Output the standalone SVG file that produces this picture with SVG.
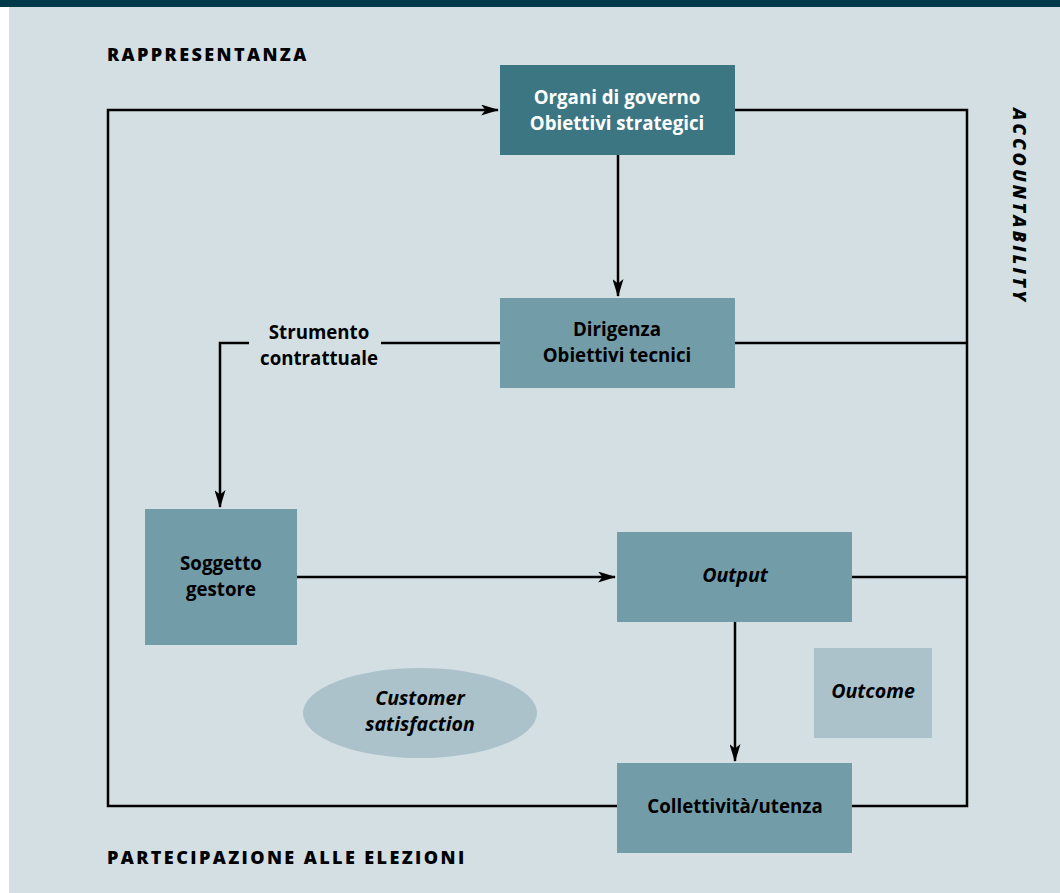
<svg xmlns="http://www.w3.org/2000/svg" width="1060" height="893" viewBox="0 0 1060 893">
<defs>
<style>
.t{font-family:"Open Sans","Liberation Sans",sans-serif;font-weight:700;font-size:18.7px;fill:#000;text-anchor:middle}
.tw{fill:#fff}
.it{font-style:italic;font-size:19.6px}
.lab{font-family:"Open Sans","Liberation Sans",sans-serif;font-weight:800;font-size:18px;letter-spacing:2.4px;fill:#000}
.ln{stroke:#000;stroke-width:2.5;fill:none}
.mid{fill:#739ca9}
.light{fill:#abc2cb}
</style>
<marker id="ah" viewBox="0 0 18 11" refX="17" refY="5.5" markerWidth="18" markerHeight="11" markerUnits="userSpaceOnUse" orient="auto">
<path d="M0,0 L18,5.5 L0,11 L4.5,5.5 z" fill="#000"/>
</marker>
</defs>
<rect x="0" y="0" width="1060" height="893" fill="#fff"/>
<rect x="9" y="0" width="1051" height="893" fill="#d4dfe4"/>
<rect x="0" y="0" width="1060" height="7" fill="#023a4b"/>

<g id="connectors">
<path class="ln" d="M617,806 L108,806 L108,110 L498,110" marker-end="url(#ah)"/>
<path class="ln" d="M735,110 L967,110 L967,806 L852,806"/>
<path class="ln" d="M618,155 L618,296" marker-end="url(#ah)"/>
<path class="ln" d="M735,343 L967,343"/>
<path class="ln" d="M500,343 L381,343"/>
<path class="ln" d="M249,343 L220,343 L220,507" marker-end="url(#ah)"/>
<path class="ln" d="M297,577 L615,577" marker-end="url(#ah)"/>
<path class="ln" d="M852,577 L967,577"/>
<path class="ln" d="M735,622 L735,761" marker-end="url(#ah)"/>
</g>

<g id="label-rappresentanza"><text class="lab" x="107" y="61">RAPPRESENTANZA</text></g>
<g id="label-partecipazione"><text class="lab" x="107" y="864">PARTECIPAZIONE ALLE ELEZIONI</text></g>
<g id="label-accountability"><text class="lab" transform="translate(1013,108) rotate(90)" x="0" y="0" style="font-style:italic;letter-spacing:3.2px">ACCOUNTABILITY</text></g>
<g id="label-strumento"><text class="t" x="319" y="339">Strumento</text><text class="t" x="319" y="365">contrattuale</text></g>

<g id="organi">
<rect x="500" y="65" width="235" height="90" fill="#3d7683"/>
<text class="t tw" x="617" y="104">Organi di governo</text>
<text class="t tw" x="617" y="130">Obiettivi strategici</text>
</g>
<g id="dirigenza">
<rect class="mid" x="500" y="298" width="235" height="90"/>
<text class="t" x="617" y="336">Dirigenza</text>
<text class="t" x="617" y="362">Obiettivi tecnici</text>
</g>
<g id="soggetto">
<rect class="mid" x="145" y="509" width="152" height="136"/>
<text class="t" x="221" y="570">Soggetto</text>
<text class="t" x="221" y="596">gestore</text>
</g>
<g id="output">
<rect class="mid" x="617" y="532" width="235" height="90"/>
<text class="t it" x="735" y="582">Output</text>
</g>
<g id="outcome">
<rect class="light" x="814" y="648" width="118" height="90"/>
<text class="t it" x="873" y="698">Outcome</text>
</g>
<g id="customer">
<ellipse class="light" cx="420" cy="713" rx="117" ry="45"/>
<text class="t it" x="420" y="705">Customer</text>
<text class="t it" x="420" y="731">satisfaction</text>
</g>
<g id="collettivita">
<rect class="mid" x="617" y="763" width="235" height="90"/>
<text class="t" x="735" y="813">Collettività/utenza</text>
</g>
</svg>
